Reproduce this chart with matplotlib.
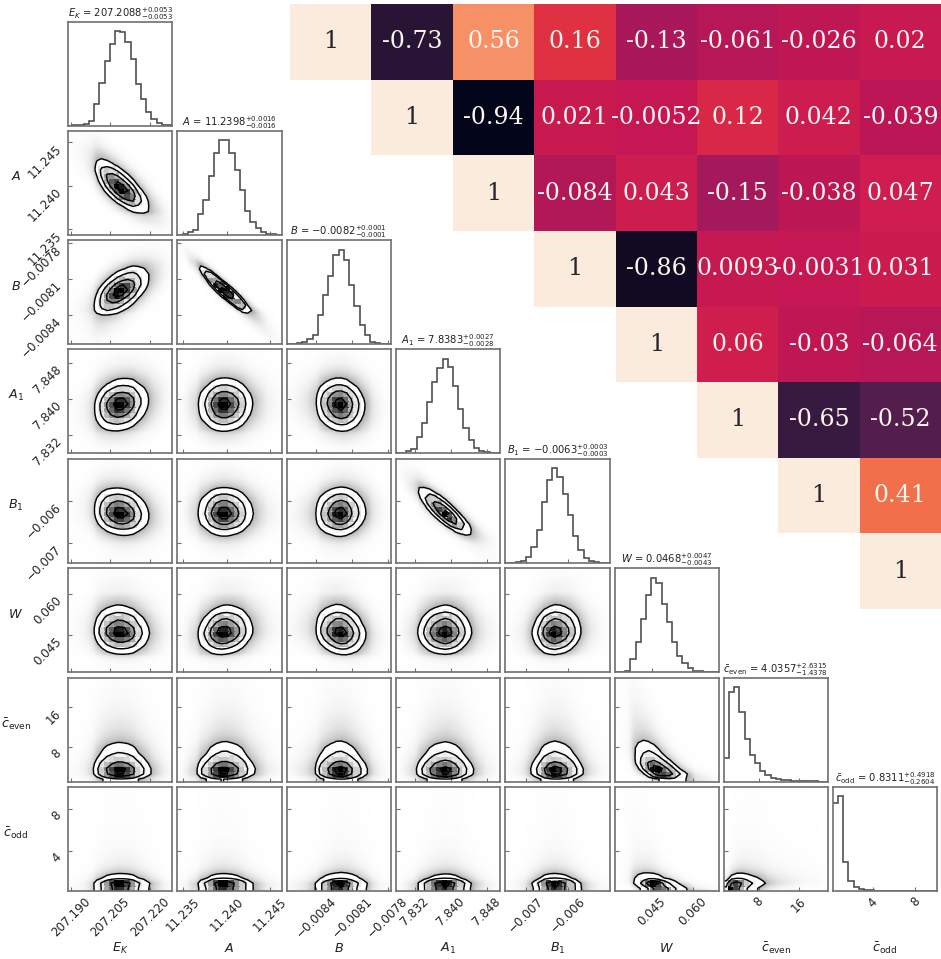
import numpy as np
import matplotlib
matplotlib.use("Agg")
import matplotlib.pyplot as plt
from matplotlib.colors import LinearSegmentedColormap
from statistics import NormalDist
import seaborn as sns

# ---------- data ----------
names = ["E_K", "A", "B", "A1", "B1", "W", "c_even", "c_odd"]
labels = [r"$E_K$", r"$A$", r"$B$", r"$A_1$", r"$B_1$", r"$W$",
          r"$\bar{c}_{\rm even}$", r"$\bar{c}_{\rm odd}$"]
titles = [r"$E_K$ = $207.2088_{-0.0053}^{+0.0053}$",
          r"$A$ = $11.2398_{-0.0016}^{+0.0016}$",
          r"$B$ = $-0.0082_{-0.0001}^{+0.0001}$",
          r"$A_1$ = $7.8383_{-0.0028}^{+0.0027}$",
          r"$B_1$ = $-0.0063_{-0.0003}^{+0.0003}$",
          r"$W$ = $0.0468_{-0.0043}^{+0.0047}$",
          r"$\bar{c}_{\rm even}$ = $4.0357_{-1.4378}^{+2.6315}$",
          r"$\bar{c}_{\rm odd}$ = $0.8311_{-0.2604}^{+0.4918}$"]

hist_EK = [0.5, 1, 2, 5, 15, 65, 127, 195, 245, 284, 281, 251, 200, 124, 79, 42, 19, 9, 3, 1]
hist_A = [0.5, 2, 8, 15, 63, 105, 177, 245, 284, 284, 245, 194, 135, 72, 40, 21, 10, 4, 2, 1]
hist_B = [1, 2, 4, 7, 15, 28, 88, 148, 207, 268, 285, 253, 178, 116, 58, 28, 8, 3, 1, 0.5]
hist_A1 = [0.5, 2, 6, 13, 49, 91, 153, 213, 256, 283, 258, 201, 133, 75, 41, 17, 8, 3, 2, 0.5]
hist_B1 = [0.5, 1, 2, 5, 18, 48, 98, 182, 248, 283, 258, 208, 143, 80, 38, 16, 6, 3, 1, 0.5]
hist_W = [0.5, 1, 4, 41, 90, 159, 232, 284, 267, 205, 152, 90, 49, 27, 14, 4, 3, 2, 1, 0.5]
hist_ceven = [70, 267, 283, 209, 128, 79, 56, 33, 19, 12, 8, 6, 4, 3, 2, 1.5, 1, 1, 0.5, 0.5]
hist_codd = [265, 285, 86, 30, 11, 5, 3, 2, 1, 1, 0.5, 0.5, 0.5, 0.3, 0.3, 0.3, 0.2, 0.2, 0.2, 0.2]
hists = [hist_EK, hist_A, hist_B, hist_A1, hist_B1, hist_W, hist_ceven, hist_codd]

range_lo = [207.1889, 11.2343, -0.008647, 7.8278, -0.007484, 0.03146, 1.07, 0.22]
range_hi = [207.2286, 11.2463, -0.007775, 7.85096, -0.005008, 0.0695, 21.8, 10.05]

ticks = [[207.190, 207.205, 207.220], [11.235, 11.240, 11.245],
         [-0.0084, -0.0081, -0.0078], [7.832, 7.840, 7.848],
         [-0.007, -0.006], [0.045, 0.060], [8, 16], [4, 8]]
tick_text = [["207.190", "207.205", "207.220"], ["11.235", "11.240", "11.245"],
             ["\u22120.0084", "\u22120.0081", "\u22120.0078"], ["7.832", "7.840", "7.848"],
             ["\u22120.007", "\u22120.006"], ["0.045", "0.060"], ["8", "16"], ["4", "8"]]

corr_row0 = [1, -0.73, 0.56, 0.16, -0.13, -0.061, -0.026, 0.02]
corr_row1 = [1, -0.94, 0.021, -0.0052, 0.12, 0.042, -0.039]
corr_row2 = [1, -0.084, 0.043, -0.15, -0.038, 0.047]
corr_row3 = [1, -0.86, 0.0093, -0.0031, 0.031]
corr_row4 = [1, 0.06, -0.03, -0.064]
corr_row5 = [1, -0.65, -0.52]
corr_row6 = [1, 0.41]
corr_row7 = [1]
corr_rows = [corr_row0, corr_row1, corr_row2, corr_row3, corr_row4, corr_row5, corr_row6, corr_row7]

# ---------- layout ----------
W, H = 941, 959
col_left = [68, 177.3, 286.5, 395.7, 505.3, 614.7, 723.7, 832.7]
row_top = [21.7, 131, 240.3, 349.4, 459, 568.3, 677.7, 787]
PW, PH = 104.3, 104
SPINE = "#707070"
LINE = "#505050"
TXT = "#222222"

fig = plt.figure(figsize=(W / 100, H / 100), dpi=100)
haze_cmap = LinearSegmentedColormap.from_list("haze", ["#ffffff", "#b4b4b4"])
dens_cmap = LinearSegmentedColormap.from_list(
    "dens", [(0, "#f4f4f4"), (0.35, "#b8b8b8"), (0.7, "#6a6a6a"), (1, "#000000")])
nd = NormalDist()
inv = np.vectorize(nd.inv_cdf)
n = len(names)


def marginal(k, npts):
    """Histogram k sampled at npts cell centres, and the normal score of its CDF."""
    h = np.asarray(hists[k], float)
    e = np.linspace(range_lo[k], range_hi[k], len(h) + 1)
    c = 0.5 * (e[:-1] + e[1:])
    x = np.linspace(range_lo[k], range_hi[k], npts + 1)
    xc = 0.5 * (x[:-1] + x[1:])
    cdf = np.concatenate([[0], np.cumsum(h)]) / h.sum()
    p = np.clip(np.interp(xc, e, cdf), 1e-4, 1 - 1e-4)
    return xc, np.exp(np.interp(xc, c, np.log(h))), inv(p)


def joint(ix, iy, rho, npts):
    xc, hx, zx = marginal(ix, npts)
    yc, hy, zy = marginal(iy, npts)
    Zx, Zy = np.meshgrid(zx, zy)
    cop = np.exp(-(rho**2 * (Zx**2 + Zy**2) - 2 * rho * Zx * Zy) / (2 * (1 - rho**2))) / np.sqrt(1 - rho**2)
    D = np.outer(hy, hx) * cop
    return xc, yc, D / D.sum()


def mass_levels(D, fractions):
    s = np.sort(D.ravel())[::-1]
    cum = np.cumsum(s)
    return [s[np.searchsorted(cum, f)] for f in fractions]


for r in range(n):
    for c in range(r + 1):
        ax = fig.add_axes([col_left[c] / W, 1 - (row_top[r] + PH) / H, PW / W, PH / H])
        for s in ax.spines.values():
            s.set_color(SPINE)
            s.set_linewidth(1.2)
        if r == c:
            edges = np.linspace(range_lo[c], range_hi[c], len(hists[c]) + 1)
            ax.stairs(hists[c], edges, color=LINE, linewidth=1.2, baseline=None)
            ax.set_ylim(0, 1.1 * max(hists[c]))
            ax.set_yticks([])
            ax.set_title(titles[c], fontsize=7.2, pad=2.5, color=TXT)
        else:
            rho = corr_rows[c][r - c]
            # coarse grid: contours and grey core
            xc, yc, D = joint(c, r, rho, 20)
            lv = mass_levels(D, [0.118, 0.393, 0.675, 0.865])
            dx, dy = xc[1] - xc[0], yc[1] - yc[0]
            X = np.concatenate([[xc[0] - 2 * dx, xc[0] - dx], xc, [xc[-1] + dx, xc[-1] + 2 * dx]])
            Y = np.concatenate([[yc[0] - 2 * dy, yc[0] - dy], yc, [yc[-1] + dy, yc[-1] + 2 * dy]])
            Dp = np.pad(D, 2, mode="edge")
            # fine grid: soft haze standing in for the scattered samples
            xf, yf, Df = joint(c, r, rho, 90)
            lf = mass_levels(Df, [0.865])[0]
            ax.imshow(np.clip(Df / lf, 0, 1) ** 0.75, origin="lower", aspect="auto",
                      extent=[range_lo[c], range_hi[c], range_lo[r], range_hi[r]],
                      cmap=haze_cmap, vmin=0, vmax=1, interpolation="bilinear")
            ax.contourf(X, Y, Dp, [lv[3], Dp.max() * 1.01], colors="white")
            xe = np.linspace(range_lo[c], range_hi[c], 21)
            ye = np.linspace(range_lo[r], range_hi[r], 21)
            ax.pcolormesh(xe, ye, np.ma.masked_less(D, lv[2]), cmap=dens_cmap,
                          vmin=lv[2], vmax=D.max(), shading="flat",
                          edgecolors="face", linewidth=0.2)
            ax.contour(X, Y, Dp, sorted(lv), colors="black", linewidths=1.05)
            ax.set_xlim(range_lo[c], range_hi[c])
            ax.set_ylim(range_lo[r], range_hi[r])
            ax.set_yticks(ticks[r])
            if c == 0:
                ax.set_yticklabels(tick_text[r], rotation=45, ha="right", va="top",
                                   fontsize=8.6, color=TXT)
            else:
                ax.set_yticklabels([])
        ax.set_xlim(range_lo[c], range_hi[c])
        ax.set_xticks(ticks[c])
        if r == n - 1:
            ax.set_xticklabels(tick_text[c], rotation=45, ha="center", fontsize=8.6, color=TXT)
        else:
            ax.set_xticklabels([])
        ax.tick_params(direction="in", length=3, width=0.8, color=SPINE, pad=3)

    if r > 0:
        fig.text(16 / W, 1 - (row_top[r] + PH / 2 - 6) / H, labels[r], fontsize=9.2,
                 ha="center", va="center", color=TXT)
    fig.text((col_left[r] + PW / 2) / W, 1 - 948 / H, labels[r], fontsize=9.2,
             ha="center", va="center", color=TXT)

# ---------- correlation heat map ----------
M = np.full((n, n), np.nan)
for i, row in enumerate(corr_rows):
    M[i, i:] = row
hax = fig.add_axes([290 / W, 1 - 609 / H, (941 - 290) / W, (609 - 4) / H])
hax.pcolormesh(np.arange(n + 1), np.arange(n + 1), np.ma.masked_invalid(M),
               cmap=sns.color_palette("rocket", as_cmap=True), vmin=-0.94, vmax=1)
hax.set_xlim(0, n)
hax.set_ylim(n, 0)
hax.axis("off")
for i, row in enumerate(corr_rows):
    for j, v in enumerate(row):
        hax.text(i + j + 0.5, i + 0.5, f"{v:.2g}", ha="center", va="center", family="DejaVu Serif",
                 fontsize=17, color="#2a2430" if v == 1 else "#fff6ee")

fig.savefig("out.png", dpi=100)
